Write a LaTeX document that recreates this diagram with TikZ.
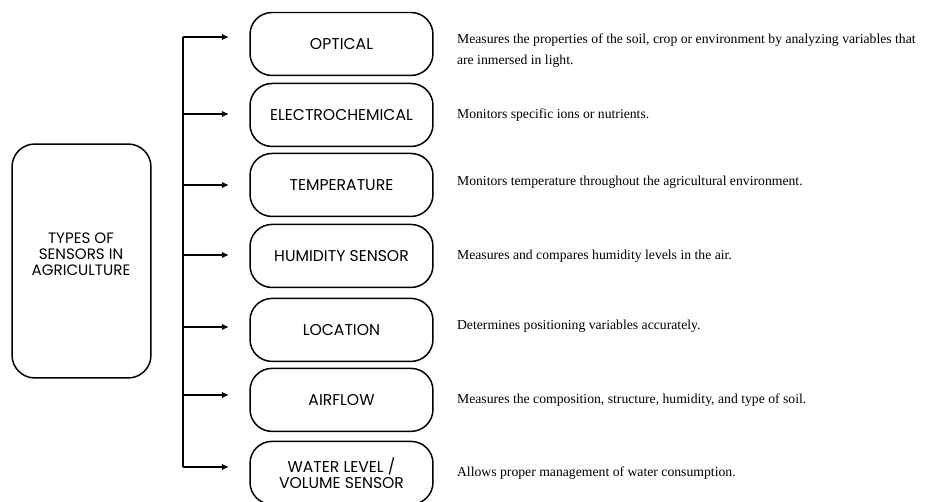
\documentclass[tikz,border=0pt]{standalone}
\usepackage{fontspec}
\setmainfont{Liberation Serif}
\newfontfamily\labelfont{Poppins}
\usetikzlibrary{arrows.meta,positioning,calc}

\begin{document}
\begin{tikzpicture}[x=0.02cm,y=-0.02cm,>={Latex[length=4pt,width=3.6pt]},node distance=0.13cm,
  every node/.style={align=center},
  sensorbox/.style={draw,line width=0.85pt,rounded corners=12.5pt,minimum width=3.66cm,minimum height=1.26cm,inner sep=0pt,font=\labelfont\fontsize{8.9}{9.2}\selectfont},
  desc/.style={anchor=west,align=left,inner sep=0pt,font=\fontsize{7.8}{11.9}\selectfont}]
  \useasboundingbox (0,0) rectangle (947,502);
  % root box
  \node[draw,line width=0.85pt,rounded corners=13pt,minimum width=2.78cm,minimum height=4.68cm,inner sep=0pt] (root) at (81.5,261) {};
  \node[font=\labelfont\fontsize{8.6}{9.2}\selectfont] (rootlbl) at (81,254) {TYPES OF\\SENSORS IN\\AGRICULTURE};
  % sensor boxes
  \node[sensorbox] (optical) at (341.5,44) {OPTICAL};
  \node[sensorbox,below=0.13cm of optical] (electro) {ELECTROCHEMICAL};
  \node[sensorbox,below=0.11cm of electro] (temp) {TEMPERATURE};
  \node[sensorbox,below=0.13cm of temp] (humid) {HUMIDITY SENSOR};
  \node[sensorbox,below=0.19cm of humid] (loc) {LOCATION};
  \node[sensorbox,below=0.11cm of loc] (air) {AIRFLOW};
  \node[sensorbox,below=0.17cm of air] (water) {WATER LEVEL /\\VOLUME SENSOR};
  % bracket
  \coordinate (spinetop) at (183,37);
  \coordinate (spinebot) at (183,467);
  \draw[line width=1pt] (spinetop) -- (spinebot);
  \foreach \y [count=\i] in {37,114,185,255,327,395,467}{
    \coordinate (s\i) at (183,\y);
    \coordinate (a\i) at (229,\y);
    \draw[->,line width=1pt] (s\i) -- (a\i);
  }
  % descriptions
  \node[desc,yshift=-0.14cm] (doptical) at ($(optical.east)+(23,0)$) {Measures the properties of the soil, crop or environment by analyzing variables that\\are inmersed in light.};
  \node[desc] (delectro) at ($(electro.east)+(23,0)$) {Monitors specific ions or nutrients.};
  \node[desc,yshift=0.06cm] (dtemp) at ($(temp.east)+(23,0)$) {Monitors temperature throughout the agricultural environment.};
  \node[desc] (dhumid) at ($(humid.east)+(23,0)$) {Measures and compares humidity levels in the air.};
  \node[desc,yshift=0.08cm] (dloc) at ($(loc.east)+(23,0)$) {Determines positioning variables accurately.};
  \node[desc] (dair) at ($(air.east)+(23,0)$) {Measures the composition, structure, humidity, and type of soil.};
  \node[desc] (dwater) at ($(water.east)+(23,0)$) {Allows proper management of water consumption.};
\end{tikzpicture}
\end{document}
